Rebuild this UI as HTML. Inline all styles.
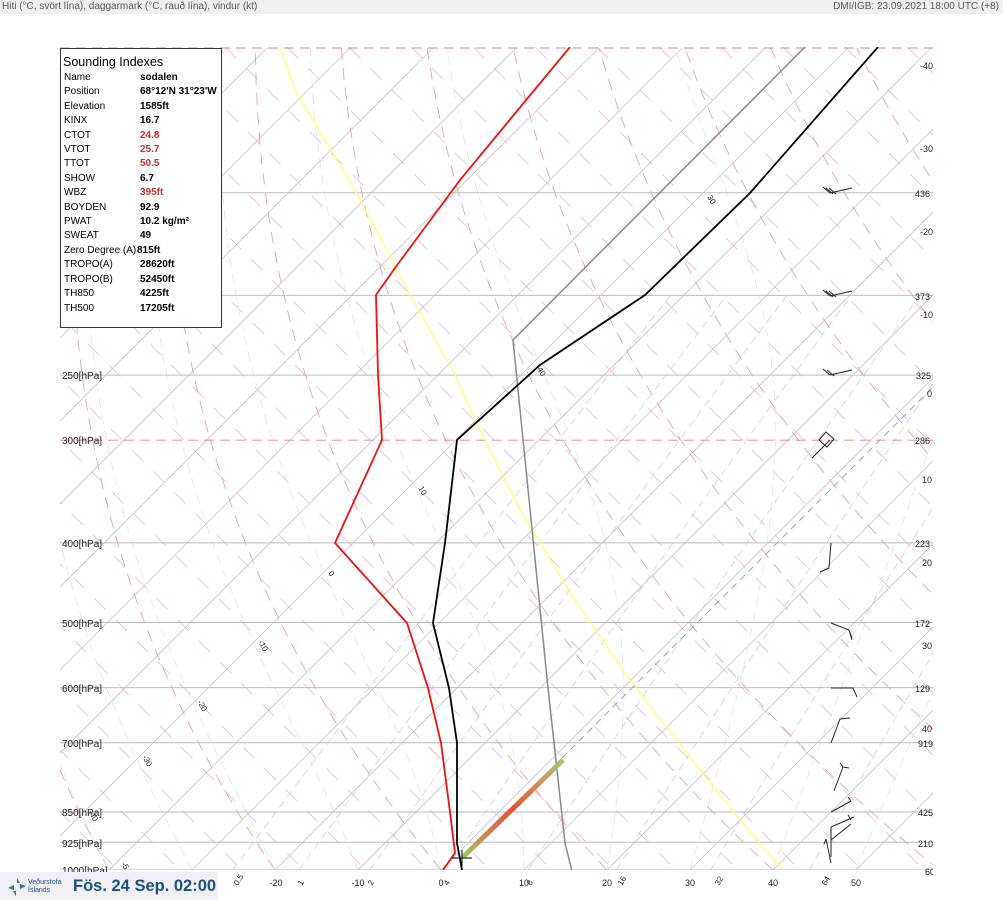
<!DOCTYPE html>
<html><head><meta charset="utf-8">
<style>
html,body{margin:0;padding:0;background:#fff;width:1003px;height:900px;overflow:hidden;font-family:"Liberation Sans",Arial,sans-serif;}
#wrap{position:relative;width:1003px;height:900px;overflow:hidden;}
#hdr{position:absolute;left:0;top:0;width:1003px;height:14px;background:#efefef;font-size:10px;color:#555;line-height:14px;}
#hdr .l{position:absolute;left:2px;}
#hdr .r{position:absolute;right:4px;}
svg{position:absolute;left:0;top:0;overflow:hidden;}
#box{position:absolute;left:60px;top:48px;width:160px;height:278px;border:1px solid #333;background:#fff;font-size:10px;color:#000;}
#box .t{font-size:12.5px;margin:6px 0 2px 2px;}
#box table{border-collapse:collapse;margin-left:3px;}
#box td{padding:0;height:14.4px;line-height:14.4px;white-space:nowrap;}
#box td.v{font-weight:bold;padding-left:3px;}
.red{color:#d22;} .dr{color:#b33;}
#foot{position:absolute;left:0;top:872px;width:218px;height:28px;background:#eef0f3;overflow:hidden;}
#foot .d{position:absolute;left:73px;top:4px;font-size:16.5px;line-height:20px;font-weight:bold;color:#1f4e79;white-space:nowrap;}
#foot .lg{position:absolute;left:28px;top:7px;font-size:7px;color:#1f4e79;line-height:8px;white-space:nowrap;}
</style></head><body><div id="wrap">
<div id="hdr"><span class="l">Hiti (°C, svört lína), daggarmark (°C, rauð lína), vindur (kt)</span><span class="r">DMI/IGB: 23.09.2021 18:00 UTC (+8)</span></div>
<svg id="s" width="1003" height="900" font-family="Liberation Sans, Arial, sans-serif" font-size="9">
<defs><clipPath id="c"><rect x="60" y="47" width="873" height="823"/></clipPath>
<linearGradient id="g" x1="0" y1="1" x2="1" y2="0"><stop offset="0" stop-color="#9c6"/><stop offset="0.2" stop-color="#c85"/><stop offset="0.5" stop-color="#d53"/><stop offset="0.8" stop-color="#c96"/><stop offset="1" stop-color="#9c6"/></linearGradient></defs>
<g id="grid" clip-path="url(#c)"></g>
<g clip-path="url(#c)" fill="none">
<polyline stroke="#ff6" stroke-width="1.2" points="280,47 295,90 355,190 410,295 455,375 480,430 520,510 575,600 630,680 700,770 740,820 783,870"/>
<line x1="460" y1="860" x2="933" y2="387" stroke="#99e" stroke-width="1" stroke-dasharray="7,5"/>
<polyline stroke="#888" stroke-width="1.5" points="573,875 565,843 548,688 513,340 805,47"/>
<line x1="463" y1="857" x2="563" y2="760" stroke="url(#g)" stroke-width="5"/>
<polyline stroke="#e11" stroke-width="1.8" points="443,870 455,853 450,812 441,743 428,688 407,623 335,543 382,440 378,375 376,295 395,268 460,180 570,47"/>
<polyline stroke="#000" stroke-width="1.8" points="462,870 457,843 457,812 457,743 449,688 433,623 445,543 457,440 540,365 645,295 750,193 878,47"/>
<path stroke="#000" stroke-width="1" d="M452 858h20M462 850v16"/>
<g stroke="#222" stroke-width="1">
<path d="M830 193l22-5M830 193l-7-6M833 194l-7-6M836 194l-7-6"/>
<path d="M830 296l22-5M830 296l-7-6M833 297l-7-6M836 297l-7-6"/>
<path d="M830 375l22-5M830 375l-7-6M834 376l-7-6"/>
<path d="M830 440l-18 18M826 432l8 7-7 8-8-7z"/>
<path d="M831 543l-2 25-9 4"/>
<path d="M831 623l18 7 3 10M849 630l3 8"/>
<path d="M831 688h22l4 9"/>
<path d="M831 743l9-24 10-1"/>
<path d="M834 791l9-24 6 1M843 767l-3-4"/>
<path d="M831 812l20-11M851 801l-3-4"/>
<path d="M831 827l23-10M831 827v30M831 840l20-16M851 820l-3-5"/>
<path d="M831 863l-5-24M826 839l-2 5"/>
</g>
</g>
<g fill="#222">
<text x="62" y="379" font-size="10">250[hPa]</text>
<text x="62" y="444" font-size="10">300[hPa]</text>
<text x="62" y="547" font-size="10">400[hPa]</text>
<text x="62" y="627" font-size="10">500[hPa]</text>
<text x="62" y="692" font-size="10">600[hPa]</text>
<text x="62" y="747" font-size="10">700[hPa]</text>
<text x="62" y="816" font-size="10">850[hPa]</text>
<text x="62" y="847" font-size="10">925[hPa]</text>
<text x="62" y="874" font-size="10">1000[hPa]</text>
<g text-anchor="middle"><text x="276" y="886">-20</text><text x="358" y="886">-10</text><text x="441" y="886">0</text><text x="524" y="886">10</text><text x="607" y="886">20</text><text x="690" y="886">30</text><text x="773" y="886">40</text><text x="856" y="886">50</text></g>
<text transform="translate(238,886) rotate(-60)" font-size="8">0.5</text>
<text transform="translate(302,886) rotate(-60)" font-size="8">1</text>
<text transform="translate(372,886) rotate(-60)" font-size="8">2</text>
<text transform="translate(448,886) rotate(-60)" font-size="8">4</text>
<text transform="translate(531,886) rotate(-60)" font-size="8">8</text>
<text transform="translate(622,886) rotate(-60)" font-size="8">16</text>
<text transform="translate(719,886) rotate(-60)" font-size="8">32</text>
<text transform="translate(826,886) rotate(-60)" font-size="8">64</text>
<text transform="translate(707,197) rotate(60)" font-size="8">30</text>
<text transform="translate(537,369) rotate(60)" font-size="8">40</text>
<text transform="translate(418,488) rotate(60)" font-size="8">10</text>
<text transform="translate(328,573) rotate(60)" font-size="8">0</text>
<text transform="translate(258,642) rotate(60)" font-size="8">-10</text>
<text transform="translate(197,702) rotate(60)" font-size="8">-20</text>
<text transform="translate(142,757) rotate(60)" font-size="8">-30</text>
<text transform="translate(88,812) rotate(60)" font-size="8">-40</text>
<text transform="translate(121,864) rotate(60)" font-size="8">-5</text>
</g>
<svg x="0" y="0" width="933" height="900">
<g fill="#222" font-size="9">
<text x="920" y="69">-40</text><text x="920" y="152">-30</text><text x="915" y="197">436</text><text x="920" y="235">-20</text>
<text x="915" y="300">373</text><text x="920" y="318">-10</text><text x="916" y="379">325</text><text x="927" y="397">0</text>
<text x="915" y="444">286</text><text x="922" y="483">10</text><text x="915" y="547">223</text><text x="922" y="566">20</text>
<text x="915" y="627">172</text><text x="922" y="649">30</text><text x="915" y="692">129</text><text x="922" y="732">40</text>
<text x="918" y="747">919</text><text x="918" y="816">425</text><text x="918" y="847">210</text><text x="925" y="875">60</text>
</g></svg>
</svg>
<div id="box"><div class="t">Sounding Indexes</div>
<table>
<tr><td style="width:73px">Name</td><td class="v">sodalen</td></tr>
<tr><td>Position</td><td class="v">68°12'N 31°23'W</td></tr>
<tr><td>Elevation</td><td class="v">1585ft</td></tr>
<tr><td>KINX</td><td class="v">16.7</td></tr>
<tr><td>CTOT</td><td class="v red">24.8</td></tr>
<tr><td>VTOT</td><td class="v dr">25.7</td></tr>
<tr><td>TTOT</td><td class="v dr">50.5</td></tr>
<tr><td>SHOW</td><td class="v">6.7</td></tr>
<tr><td>WBZ</td><td class="v dr">395ft</td></tr>
<tr><td>BOYDEN</td><td class="v">92.9</td></tr>
<tr><td>PWAT</td><td class="v">10.2 kg/m²</td></tr>
<tr><td>SWEAT</td><td class="v">49</td></tr>
<tr><td>Zero Degree (A)</td><td class="v" style="padding-left:0">815ft</td></tr>
<tr><td>TROPO(A)</td><td class="v">28620ft</td></tr>
<tr><td>TROPO(B)</td><td class="v">52450ft</td></tr>
<tr><td>TH850</td><td class="v">4225ft</td></tr>
<tr><td>TH500</td><td class="v">17205ft</td></tr>
</table></div>
<div id="foot"><svg width="26" height="26" style="position:absolute;left:4px;top:2px"><path d="M13 4l3 5-3 0z M4 14l6-3 0 5z M22 12l-6 3 0-5z M12 22l-3-5 3 0z" fill="#4a6a94"/></svg><div class="lg">Veðurstofa<br>Íslands</div><div class="d">Fös. 24 Sep. 02:00</div></div>
</div>
<script>
(function(){
var g=document.getElementById('grid'),NS='http://www.w3.org/2000/svg';
function Y(p){return 870-357*Math.log(1000/p);}
function X(T,p){return 441+8.3*T+(870-Y(p));}
function pl(pts,st,w,da){var e=document.createElementNS(NS,'polyline');e.setAttribute('points',pts.map(function(a){return a[0].toFixed(1)+','+a[1].toFixed(1)}).join(' '));e.setAttribute('fill','none');e.setAttribute('stroke',st);e.setAttribute('stroke-width',w);if(da)e.setAttribute('stroke-dasharray',da);g.appendChild(e);}
var ps=[];for(var p=1000;p>=100;p-=10)ps.push(p);
for(var k=-1000;k<1000;k+=62){pl([[k+47,47],[k+870,870]],'#e0b8e0',0.8,'16,14');}
for(var T=-130;T<=60;T+=10){pl([[X(T,1000),Y(1000)],[X(T,100),Y(100)]],'#c4c4c4',0.8);}
[0.5,1,2,4,8,16,32,64].forEach(function(w){var a=[];ps.forEach(function(p){if(p<200)return;var e=w*p/(622+w);var l=Math.log(e/6.112);var td=243.5*l/(17.67-l);a.push([X(td,p),Y(p)]);});pl(a,'#d4d4d4',0.9,'8,5');});
for(var th=-40;th<=200;th+=20){var a=[];ps.forEach(function(p){var t=(th+273.15)*Math.pow(p/1000,0.286)-273.15;a.push([X(t,p),Y(p)]);});pl(a,'#e8a0a8',0.9,'12,8');}
function es(t){return 6.112*Math.exp(17.67*t/(t+243.5));}
for(var t0=-40;t0<=50;t0+=10){var a=[],t=t0;for(var p=1000;p>=100;p-=5){a.push([X(t,p),Y(p)]);var T=t+273.15,r=0.622*es(t)/(p-es(t)),L=2.5e6;var dtdp=(287*T+L*r)/(1004+L*L*r*0.622/(287*T*T))/p;t-=dtdp*5;}pl(a,'#e2e2e2',0.8,'10,6');}
[150,200,250,400,500,600,700,850,925,1000].forEach(function(p){pl([[60,Y(p)],[933,Y(p)]],'#bbb',1);});
[100,300].forEach(function(p){pl([[60,Y(p)],[933,Y(p)]],'#e08080',0.9,'10,6');});
})();
</script>
</body></html>
